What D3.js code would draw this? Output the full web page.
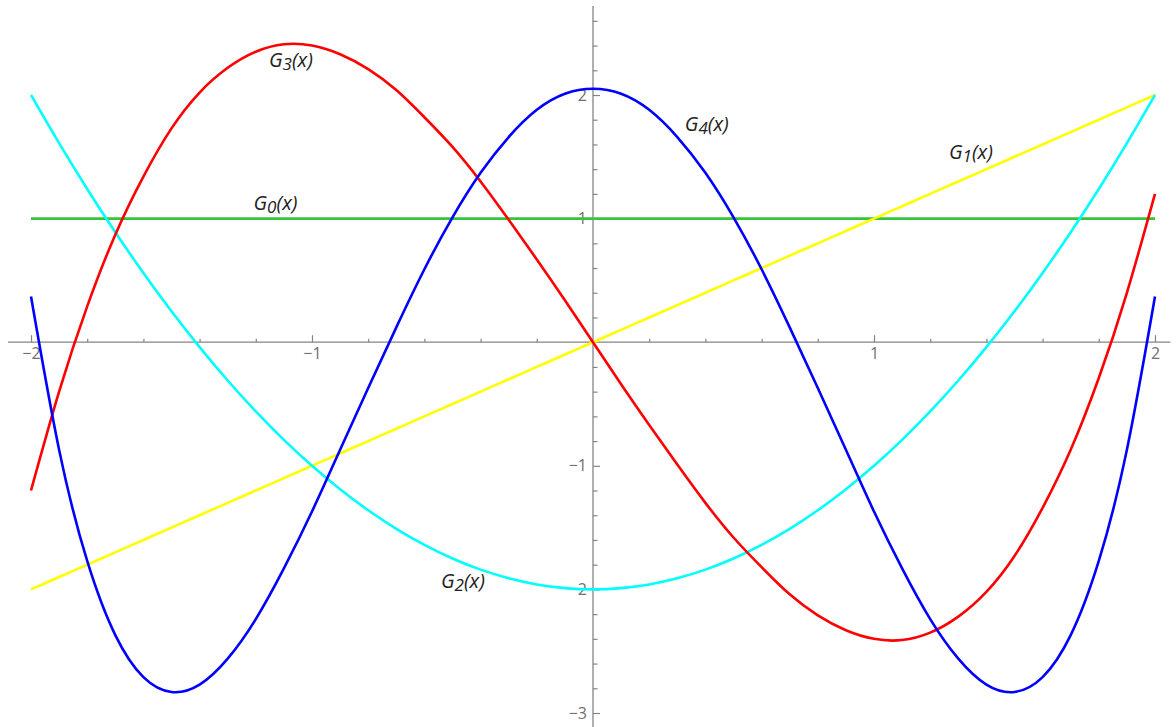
<!DOCTYPE html>
<html>
<head>
<meta charset="utf-8">
<script src="https://cdn.jsdelivr.net/npm/d3@7"></script>
<style>
  html, body { margin: 0; padding: 0; background: #fff; }
  svg { display: block; }
  .curve-label { font-family: "Open Sans", "Noto Sans", sans-serif; font-style: italic; font-size: 20px; fill: #222; }
</style>
</head>
<body>
<svg id="chart" width="1176" height="727"></svg>
<script>
// sample points along x
const xs = [-2.0, -1.9, -1.8, -1.7, -1.6, -1.5, -1.4, -1.3, -1.2, -1.1, -1.0,
            -0.9, -0.8, -0.7, -0.6, -0.5, -0.4, -0.3, -0.2, -0.1, 0.0,
             0.1, 0.2, 0.3, 0.4, 0.5, 0.6, 0.7, 0.8, 0.9, 1.0,
             1.1, 1.2, 1.3, 1.4, 1.5, 1.6, 1.7, 1.8, 1.9, 2.0];

const g0 = [1, 1, 1, 1, 1, 1, 1, 1, 1, 1, 1,
            1, 1, 1, 1, 1, 1, 1, 1, 1, 1,
            1, 1, 1, 1, 1, 1, 1, 1, 1, 1,
            1, 1, 1, 1, 1, 1, 1, 1, 1, 1];

const g1 = [-2.0, -1.9, -1.8, -1.7, -1.6, -1.5, -1.4, -1.3, -1.2, -1.1, -1.0,
            -0.9, -0.8, -0.7, -0.6, -0.5, -0.4, -0.3, -0.2, -0.1, 0.0,
             0.1, 0.2, 0.3, 0.4, 0.5, 0.6, 0.7, 0.8, 0.9, 1.0,
             1.1, 1.2, 1.3, 1.4, 1.5, 1.6, 1.7, 1.8, 1.9, 2.0];

const g2 = [2.00, 1.61, 1.24, 0.89, 0.56, 0.25, -0.04, -0.31, -0.56, -0.79, -1.00,
            -1.19, -1.36, -1.51, -1.64, -1.75, -1.84, -1.91, -1.96, -1.99, -2.00,
            -1.99, -1.96, -1.91, -1.84, -1.75, -1.64, -1.51, -1.36, -1.19, -1.00,
            -0.79, -0.56, -0.31, -0.04, 0.25, 0.56, 0.89, 1.24, 1.61, 2.00];

const g3 = [-1.20, -0.40, 0.29, 0.87, 1.34, 1.73, 2.02, 2.22, 2.35, 2.41, 2.40,
             2.33, 2.21, 2.04, 1.82, 1.58, 1.30, 0.99, 0.67, 0.34, 0.00,
            -0.34, -0.67, -0.99, -1.30, -1.58, -1.82, -2.04, -2.21, -2.33, -2.40,
            -2.41, -2.35, -2.22, -2.02, -1.73, -1.34, -0.87, -0.29, 0.40, 1.20];

const g4 = [0.37, -0.87, -1.77, -2.37, -2.71, -2.83, -2.77, -2.56, -2.24, -1.83, -1.37,
            -0.87, -0.37, 0.12, 0.59, 1.01, 1.37, 1.66, 1.88, 2.01, 2.05,
             2.01, 1.88, 1.66, 1.37, 1.01, 0.59, 0.12, -0.37, -0.87, -1.37,
            -1.83, -2.24, -2.56, -2.77, -2.83, -2.71, -2.37, -1.77, -0.87, 0.37];

const seriesNames  = ["0", "1", "2", "3", "4"];
const seriesValues = [g0, g1, g2, g3, g4];
const seriesColors = ["#36c43a", "#ffff00", "#00ffff", "#ff0000", "#0000ff"];

// curve labels: name, anchor x, anchor y (data units)
const labelNames = ["0", "1", "2", "3", "4"];
const labelX = [-1.13, 1.345, -0.463, -1.075, 0.405];
const labelY = [1.07, 1.485, -1.99, 2.225, 1.71];

const xMajor = [-2, -1, 1, 2];
const xMinor = [-1.8, -1.6, -1.4, -1.2, -0.8, -0.6, -0.4, -0.2, 0.2, 0.4, 0.6, 0.8, 1.2, 1.4, 1.6, 1.8];
const yMajor = [-3, -2, -1, 1, 2];
const yMinor = [-2.8, -2.6, -2.4, -2.2, -1.8, -1.6, -1.4, -1.2, -0.8, -0.6, -0.4, -0.2,
                 0.2, 0.4, 0.6, 0.8, 1.2, 1.4, 1.6, 1.8, 2.2, 2.4, 2.6];

const svg = d3.select("#chart");
const W = 1176, H = 727;

const x = d3.scaleLinear().domain([-2, 2]).range([31, 1155]);
const y = d3.scaleLinear().domain([-3, 2]).range([713, 95]);

const axisColor = "#858585";

// x axis
const xAxisG = svg.append("g").attr("transform", `translate(0,${y(0)})`);
xAxisG.append("line")
  .attr("x1", x(-2.082)).attr("x2", x(2.055))
  .attr("stroke", axisColor).attr("stroke-width", 1.3);
xAxisG.append("g")
  .call(d3.axisBottom(x).tickValues(xMinor).tickSize(-3.5).tickFormat(""))
  .call(g => g.select(".domain").remove());
xAxisG.append("g")
  .call(d3.axisBottom(x).tickValues(xMajor).tickSize(-7).tickPadding(5).tickFormat(d3.format("d")))
  .call(g => g.select(".domain").remove());

// y axis
const yAxisG = svg.append("g").attr("transform", `translate(${x(0)},0)`);
yAxisG.append("line")
  .attr("y1", y(2.72)).attr("y2", H)
  .attr("stroke", axisColor).attr("stroke-width", 1.3);
yAxisG.append("g")
  .call(d3.axisLeft(y).tickValues(yMinor).tickSize(-4.5).tickFormat(""))
  .call(g => g.select(".domain").remove());
yAxisG.append("g")
  .call(d3.axisLeft(y).tickValues(yMajor).tickSize(-7).tickPadding(6).tickFormat(d3.format("d")))
  .call(g => g.select(".domain").remove());

svg.selectAll(".tick line").attr("stroke", axisColor).attr("stroke-width", 1.2);
svg.selectAll(".tick text")
  .attr("font-family", "'Open Sans', 'DejaVu Sans', sans-serif")
  .attr("font-size", 16)
  .attr("fill", "#707070");

// curves
const line = d3.line()
  .x((d, i) => x(xs[i]))
  .y(d => y(d))
  .curve(d3.curveNatural);

svg.append("g").selectAll("path")
  .data(seriesValues)
  .join("path")
  .attr("d", d => line(d))
  .attr("fill", "none")
  .attr("stroke", (d, i) => seriesColors[i])
  .attr("stroke-width", 2.6)
  .attr("stroke-linejoin", "round");

// curve labels
const labels = svg.append("g").selectAll("text")
  .data(labelNames)
  .join("text")
  .attr("class", "curve-label")
  .attr("x", (d, i) => x(labelX[i]))
  .attr("y", (d, i) => y(labelY[i]))
  .attr("text-anchor", "middle");
labels.append("tspan").text("G");
labels.append("tspan").attr("font-size", "17px").attr("dy", "3").text(d => d);
labels.append("tspan").attr("dy", "-3").text("(x)");
</script>
</body>
</html>
